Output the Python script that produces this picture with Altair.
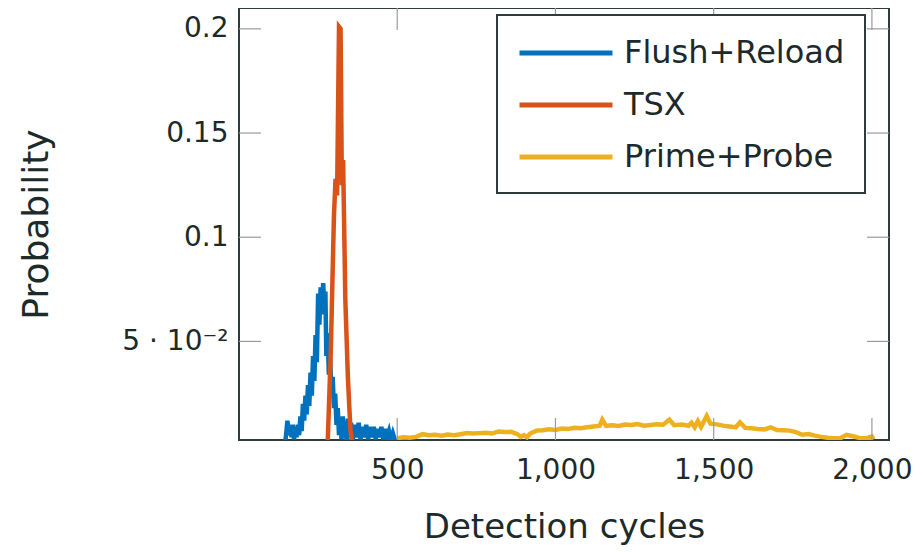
import altair as alt
import pandas as pd

series_names = ["Flush+Reload", "TSX", "Prime+Probe"]
series_colors = ["#0072BD", "#D95319", "#EDB120"]

fr_x = [145, 150, 153, 158, 162, 166, 170, 174, 178, 182, 186, 190, 194, 198, 202, 206,
        210, 214, 218, 222, 226, 230, 234, 238, 242, 246, 250, 254, 258, 262, 266, 270,
        273, 276, 280, 284, 288, 292, 296, 300, 304, 308, 312, 316, 320, 324, 328, 332,
        336, 340, 344, 348, 354, 360, 366, 372, 378, 384, 390, 396, 402, 408, 414, 420,
        426, 432, 438, 444, 450, 456, 462, 468, 474, 480, 486, 492, 498]
fr_y = [0.0, 0.007, 0.012, 0.005, 0.010, 0.004, 0.010, 0.003, 0.009, 0.004, 0.010, 0.005,
        0.014, 0.007, 0.020, 0.012, 0.024, 0.015, 0.029, 0.019, 0.035, 0.024, 0.043, 0.031,
        0.053, 0.040, 0.073, 0.058, 0.076, 0.063, 0.078, 0.066, 0.074, 0.043, 0.054, 0.034,
        0.042, 0.026, 0.033, 0.018, 0.025, 0.010, 0.018, 0.005, 0.013, 0.003, 0.014, 0.004,
        0.011, 0.002, 0.013, 0.004, 0.011, 0.003, 0.010, 0.004, 0.011, 0.003, 0.009, 0.004,
        0.010, 0.003, 0.009, 0.004, 0.009, 0.003, 0.008, 0.004, 0.009, 0.003, 0.008, 0.004,
        0.007, 0.003, 0.006, 0.003, 0.002]

tsx_x = [280, 290, 300, 305, 310, 316, 321, 325, 329, 336, 344, 352, 358]
tsx_y = [0.0, 0.045, 0.11, 0.128, 0.12, 0.201, 0.2, 0.125, 0.137, 0.07, 0.033, 0.008, 0.0]

pp_x = [500, 520, 540, 560, 580, 600, 620, 640, 660, 680, 700, 720, 740, 760, 780, 800,
        820, 840, 860, 880, 890, 900, 910, 920, 940, 960, 980, 1000, 1020, 1040, 1060, 1080,
        1100, 1120, 1140, 1148, 1160, 1180, 1200, 1220, 1240, 1260, 1280, 1300, 1320, 1340,
        1360, 1375, 1400, 1420, 1430, 1440, 1450, 1460, 1478, 1490, 1510, 1530, 1550, 1570,
        1583, 1600, 1620, 1640, 1660, 1680, 1700, 1720, 1740, 1760, 1780, 1800, 1820, 1840,
        1860, 1880, 1900, 1920, 1940, 1960, 1980, 2000, 2005]
pp_y = [0.0035, 0.004, 0.0038, 0.0042, 0.0055, 0.005, 0.0052, 0.0048, 0.0053, 0.005, 0.0055,
        0.006, 0.0058, 0.006, 0.0062, 0.0058, 0.0068, 0.0065, 0.0066, 0.0055, 0.0042, 0.005,
        0.004, 0.0058, 0.0072, 0.0074, 0.0078, 0.0075, 0.0082, 0.008, 0.0086, 0.0083, 0.0088,
        0.0092, 0.0096, 0.0125, 0.0095, 0.0098, 0.0094, 0.0101, 0.0099, 0.0104, 0.0096, 0.0099,
        0.0102, 0.0100, 0.0125, 0.0098, 0.0101, 0.0095, 0.011, 0.0088, 0.0118, 0.009, 0.0142,
        0.0105, 0.0102, 0.0096, 0.0092, 0.0088, 0.0112, 0.0085, 0.0083, 0.008, 0.0078, 0.0088,
        0.0075, 0.0074, 0.0072, 0.0065, 0.0052, 0.0056, 0.0048, 0.0042, 0.0038, 0.0036, 0.0035,
        0.0052, 0.0045, 0.0037, 0.0035, 0.0044, 0.0030]

x_ticks = [500, 1000, 1500, 2000]
y_ticks = [0.05, 0.1, 0.15, 0.2]

W, H = 650, 432
TICK = 22
FONT = "DejaVu Sans"
TXT = "#1c2a2a"
FRAME = "#2e3b3b"

rows = []
for name, xs, ys in [(series_names[0], fr_x, fr_y), (series_names[1], tsx_x, tsx_y),
                     (series_names[2], pp_x, pp_y)]:
    for i, (a, b) in enumerate(zip(xs, ys)):
        rows.append({"series": name, "cycles": a, "prob": b, "idx": i})
df = pd.DataFrame(rows)

xscale = alt.Scale(domain=[0, 2054], nice=False, zero=False)
yscale = alt.Scale(domain=[0.0027, 0.21], nice=False, zero=False)
cscale = alt.Scale(domain=series_names, range=series_colors)

xaxis = alt.Axis(values=x_ticks, grid=False, ticks=False, tickSize=0, domain=False,
                 labelExpr="format(datum.value, ',')",
                 labelFontSize=28, labelFont=FONT, labelColor=TXT, labelPadding=16,
                 title="Detection cycles", titleFontSize=34, titleFont=FONT, titleColor=TXT,
                 titleFontWeight="normal", titlePadding=26)
yaxis = alt.Axis(values=y_ticks, grid=False, ticks=False, tickSize=0, domain=False,
                 labelExpr="datum.value < 0.07 ? '5 · 10⁻²' : format(datum.value, '.2~f')",
                 labelFontSize=28, labelFont=FONT, labelColor=TXT, labelPadding=11,
                 title="Probability", titleFontSize=36, titleFont=FONT, titleColor=TXT,
                 titleFontWeight="normal", titlePadding=66)

layers = []
for k, name in enumerate(series_names):
    enc = dict(
        x=alt.X("cycles:Q", scale=xscale, axis=xaxis),
        y=alt.Y("prob:Q", scale=yscale, axis=yaxis),
        color=alt.Color("series:N", scale=cscale,
                        legend=alt.Legend(title=None, orient="none", legendX=258, legendY=7,
                                          symbolType="M-1,0H5", symbolSize=961,
                                          symbolStrokeWidth=5, labelFontSize=32, labelFont=FONT,
                                          labelColor=TXT, labelOffset=71, rowPadding=18,
                                          labelLimit=500,
                                          padding=20, strokeColor=FRAME, fillColor="white")),
        order=alt.Order("idx:Q"),
    )
    layers.append(
        alt.Chart(df).transform_filter(alt.datum.series == name)
        .mark_line(strokeWidth=4.5, clip=True).encode(**enc)
    )

xt_df = pd.DataFrame({"v": x_ticks})
yt_df = pd.DataFrame({"v": y_ticks})
tick_style = dict(color="#9a9a9a", strokeWidth=1.2)
bottom_ticks = alt.Chart(xt_df).mark_rule(**tick_style).encode(
    x=alt.X("v:Q", scale=xscale, axis=xaxis), y=alt.value(H - TICK), y2=alt.value(H))
top_ticks = alt.Chart(xt_df).mark_rule(**tick_style).encode(
    x=alt.X("v:Q", scale=xscale, axis=xaxis), y=alt.value(0), y2=alt.value(TICK))
left_ticks = alt.Chart(yt_df).mark_rule(**tick_style).encode(
    y=alt.Y("v:Q", scale=yscale, axis=yaxis), x=alt.value(0), x2=alt.value(TICK))
right_ticks = alt.Chart(yt_df).mark_rule(**tick_style).encode(
    y=alt.Y("v:Q", scale=yscale, axis=yaxis), x=alt.value(W - TICK), x2=alt.value(W))

chart = alt.layer(*layers, bottom_ticks, top_ticks, left_ticks, right_ticks).properties(
    width=W, height=H,
    autosize=alt.AutoSizeParams(type="none"),
    padding={"left": 231, "top": 0, "right": 26, "bottom": 112},
).configure_view(stroke=FRAME, strokeWidth=2).configure_legend(strokeWidth=2)

chart.save("out.html", embed_options={"renderer": "svg", "actions": False})
